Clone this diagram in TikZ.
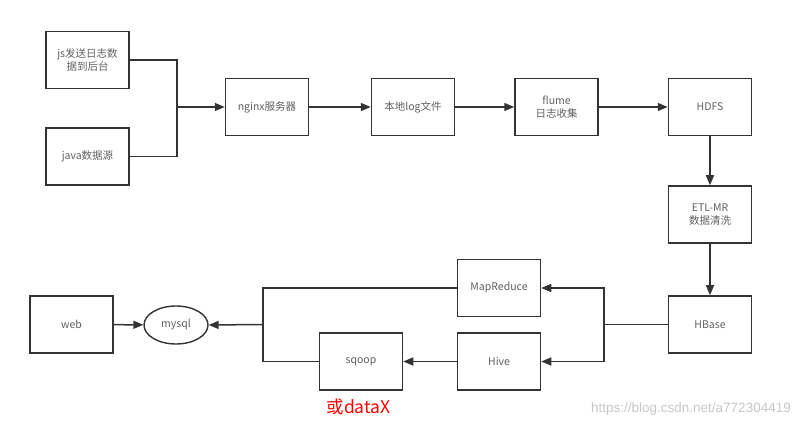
\documentclass[tikz,border=0pt]{standalone}
\usepackage{fontspec}
\setmainfont{Noto Sans CJK SC}
\newfontfamily\wmfont{Liberation Sans}
\usetikzlibrary{arrows.meta,shapes.geometric}
\definecolor{linec}{HTML}{333333}
\definecolor{textc}{HTML}{606060}
\tikzset{
  box/.style={draw=linec, line width=1.5pt, minimum width=83pt, minimum height=57pt, inner sep=0pt, align=center, text=textc, font=\fontsize{10.5}{13}\selectfont},
  oval/.style={draw=linec, line width=1.4pt, ellipse, minimum width=64pt, minimum height=38pt, inner sep=0pt, text=textc, font=\fontsize{10.5}{13}\selectfont},
  conn/.style={draw=linec, line width=1.5pt},
  arr/.style={conn, -{Triangle[length=10pt,width=8pt]}},
}
\begin{document}
\begin{tikzpicture}[x=1pt,y=-1pt]
\useasboundingbox (0,0) rectangle (800,427);
% top row
\node[box] (js) at (87.5,60) {js发送日志数\\据到后台};
\node[box] (java) at (87.5,156.5) {java数据源};
\node[box] (nginx) at (267,107) {nginx服务器};
\node[box] (log) at (413,107) {本地log文件};
\node[box] (flume) at (556.5,107) {flume\\日志收集};
\node[box] (hdfs) at (710,107) {HDFS};
\node[box] (etl) at (710,214.5) {ETL-MR\\数据清洗};
\node[box] (hbase) at (710,324.5) {HBase};
\node[box] (mr) at (499,288) {MapReduce};
\node[box] (hive) at (499,361.5) {Hive};
\node[box] (sqoop) at (361,361.5) {sqoop};
\node[box] (web) at (71.5,324.5) {web};
\node[oval] (mysql) at (176,325) {mysql};
\coordinate (j1) at (177,107);
\coordinate (j2) at (604,324.5);
\coordinate (j3) at (263,324.5);
\node[text=red, font=\fontsize{17.5}{19}\selectfont, inner sep=0pt] (datax) at (358.5,407) {或dataX};
\node[text=black!22, font=\wmfont\fontsize{13.5}{15}\selectfont, inner sep=0pt, anchor=east] (wm) at (791,409) {https://blog.csdn.net/a772304419};
% connectors
\draw[conn] (js.east) -| (j1);
\draw[conn] (java.east) -| (j1);
\draw[arr] (j1) -- (nginx.west);
\draw[arr] (nginx) -- (log);
\draw[arr] (log) -- (flume);
\draw[arr] (flume) -- (hdfs);
\draw[arr] (hdfs) -- (etl);
\draw[arr] (etl) -- (hbase);
\draw[conn] (hbase.west) -- (j2);
\draw[arr] (j2) |- (mr.east);
\draw[arr] (j2) |- (hive.east);
\draw[arr] (hive) -- (sqoop);
\draw[conn] (mr.west) -| (j3);
\draw[conn] (sqoop.west) -| (j3);
\draw[arr] (j3) -- (mysql.east);
\draw[arr] (web) -- (mysql);
\end{tikzpicture}
\end{document}
